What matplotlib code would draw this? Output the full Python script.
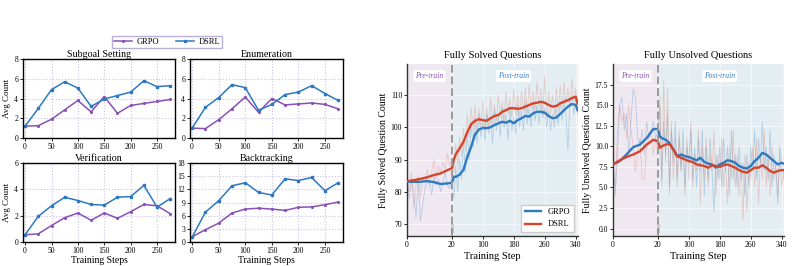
import numpy as np
import matplotlib
matplotlib.use('Agg')
import matplotlib.pyplot as plt

plt.rcParams['font.family'] = ['Liberation Serif', 'DejaVu Serif']
plt.rcParams['mathtext.fontset'] = 'stix'

# ---------------- left: reasoning behaviour counts ----------------
steps = [0, 25, 50, 75, 100, 125, 150, 175, 200, 225, 250, 275]

subgoal_grpo = [1.2, 1.25, 1.9, 2.85, 3.8, 2.65, 4.2, 2.5, 3.3, 3.5, 3.7, 3.9]
subgoal_dsrl = [1.2, 3.0, 4.9, 5.7, 5.05, 3.2, 3.95, 4.3, 4.65, 5.8, 5.2, 5.3]
enum_grpo = [1.0, 0.95, 1.85, 2.95, 4.15, 2.6, 4.0, 3.35, 3.45, 3.55, 3.4, 2.95]
enum_dsrl = [1.0, 3.1, 4.1, 5.4, 5.1, 2.8, 3.4, 4.4, 4.65, 5.3, 4.5, 3.8]
verif_grpo = [0.55, 0.62, 1.25, 1.85, 2.2, 1.65, 2.2, 1.8, 2.3, 2.85, 2.75, 2.15]
verif_dsrl = [0.55, 1.95, 2.75, 3.4, 3.15, 2.85, 2.8, 3.4, 3.45, 4.3, 2.65, 3.3]
back_grpo = [1.2, 2.8, 4.3, 6.6, 7.5, 7.7, 7.5, 7.2, 7.9, 8.0, 8.5, 9.1]
back_dsrl = [1.1, 6.8, 9.4, 12.8, 13.5, 11.3, 10.7, 14.4, 14.0, 14.7, 11.7, 13.5]

panel_titles = ['Subgoal Setting', 'Enumeration', 'Verification', 'Backtracking']
panel_ylims = [(0, 8), (0, 8), (0, 6), (0, 18)]
panel_yticks = [[0, 2, 4, 6, 8], [0, 2, 4, 6, 8], [0, 2, 4, 6], [0, 3, 6, 9, 12, 15, 18]]

# ---------------- right: solved / unsolved question counts ----------------
sm_steps = [0, 3, 6, 9, 12, 15, 18, 20, 25, 30] + list(range(40, 341, 10)) + [345]

solved_grpo = [83.1, 83.1, 83.1, 83.3, 83.0, 82.4, 82.6, 82.8, 84.7, 84.6,
               85.3, 86.8, 90.8, 94.0, 97.8, 99.3, 99.8, 99.7, 100.0, 100.7,
               101.2, 101.7, 101.4, 102.0, 101.2, 102.2, 102.8, 103.5, 103.3, 104.3,
               104.8, 104.8, 104.5, 103.5, 102.8, 103.0, 104.1, 105.3, 106.4, 107.2,
               106.9, 105.3]
solved_dsrl = [83.3, 83.6, 84.0, 84.5, 85.2, 85.7, 86.7, 87.3, 90.0, 91.6,
               93.5, 95.5, 98.5, 101.0, 102.0, 102.5, 102.2, 102.0, 102.8, 103.5,
               103.8, 104.8, 105.3, 105.9, 105.9, 105.7, 105.9, 106.4, 106.9, 107.4,
               107.6, 107.9, 107.6, 106.9, 106.4, 106.6, 107.4, 107.9, 108.4, 109.0,
               109.5, 107.4]
unsolved_grpo = [7.8, 8.2, 9.0, 9.9, 10.2, 11.0, 12.1, 12.1, 11.2, 11.0,
                 10.8, 10.4, 9.6, 8.8, 9.0, 8.8, 8.7, 8.5, 8.3, 8.6,
                 8.1, 7.9, 7.8, 7.4, 7.8, 8.0, 8.3, 8.2, 8.0, 7.6,
                 7.4, 7.3, 7.6, 8.2, 8.6, 9.2, 9.0, 8.6, 8.2, 7.8,
                 8.0, 7.9]
unsolved_dsrl = [7.8, 8.3, 8.7, 9.0, 9.4, 10.2, 10.8, 10.6, 9.8, 10.0,
                 10.2, 10.3, 9.6, 8.8, 8.6, 8.4, 8.2, 8.1, 7.8, 7.7,
                 7.6, 7.4, 7.7, 7.6, 7.5, 7.7, 7.8, 7.6, 7.4, 7.1,
                 6.9, 6.8, 7.1, 7.4, 7.4, 7.7, 7.4, 7.0, 6.8, 7.0,
                 7.1, 7.1]

raw_steps = list(range(0, 20)) + list(range(20, 346, 5))

solved_grpo_raw = [85, 78, 83, 80, 72, 84, 71, 76, 81, 84, 83, 79, 85, 82, 84, 80, 83, 86, 82, 81,
                   84, 78, 88, 80, 90, 84, 95, 86, 98, 90, 101, 94, 103, 95, 104, 97, 102, 96, 104, 98,
                   103, 95, 105, 99, 104, 97, 106, 100, 104, 96, 106, 99, 103, 98, 107, 100, 105, 99, 108, 101,
                   106, 100, 108, 102, 107, 101, 108, 103, 106, 100, 105, 99, 104, 100, 106, 101, 108, 102, 109, 103,
                   93, 108, 110, 104, 109, 104]
solved_dsrl_raw = [84, 80, 86, 75, 82, 85, 79, 84, 83, 87, 82, 86, 90, 84, 88, 86, 89, 87, 92, 88,
                   90, 86, 95, 88, 97, 91, 100, 93, 104, 97, 106, 99, 107, 98, 106, 100, 108, 99, 106, 100,
                   109, 101, 107, 102, 110, 103, 108, 102, 111, 104, 109, 103, 112, 104, 110, 103, 111, 105, 112, 104,
                   113, 106, 111, 105, 114, 106, 112, 104, 116, 103, 111, 104, 110, 103, 112, 105, 113, 106, 114, 107,
                   112, 106, 115, 108, 112, 105]
unsolved_grpo_raw = [8, 4, 9, 15, 16, 12, 14, 9, 13, 17, 16, 11, 10, 12, 9, 13, 11, 12, 13, 11,
                     12, 15, 6, 13, 9, 14, 5, 12, 8, 13, 6, 11, 7, 12, 5, 10, 8, 12, 6, 10,
                     5, 11, 7, 12, 4, 10, 6, 11, 7, 2, 9, 6, 10, 5, 11, 7, 10, 4, 12, 6,
                     9, 5, 10, 6, 8, 4, 9, 5, 10, 7, 12, 6, 11, 8, 13, 7, 10, 6, 12, 5,
                     9, 7, 3, 10, 8, 6]
unsolved_dsrl_raw = [8, 5, 12, 15, 13, 14, 11, 15, 12, 10, 7, 9, 11, 6, 6, 10, 11, 12, 9, 11,
                     9, 16, 5, 18, 8, 17, 4, 13, 6, 11, 5, 12, 7, 10, 4, 11, 6, 13, 5, 9,
                     7, 12, 3, 10, 6, 11, 5, 9, 7, 12, 4, 9, 6, 11, 5, 8, 3, 10, 6, 12,
                     5, 9, 4, 8, 1, 9, 2, 8, 6, 10, 5, 11, 3, 9, 6, 12, 5, 9, 4, 10,
                     6, 8, 4, 9, 5, 7]

PURPLE = '#8a50b8'
BLUE_L = '#2e78c2'
C_GRPO = '#2f7abf'
C_DSRL = '#d4452c'

fig = plt.figure(figsize=(7.93, 2.66), dpi=100)

# left 2x2 grid
W, H = 793.0, 266.0
boxes = [(23, 59, 152, 79), (190, 59, 153, 79), (23, 163, 152, 79), (190, 163, 153, 79)]
grpo_sets = [subgoal_grpo, enum_grpo, verif_grpo, back_grpo]
dsrl_sets = [subgoal_dsrl, enum_dsrl, verif_dsrl, back_dsrl]

for i, (x0, y0, w, h) in enumerate(boxes):
    ax = fig.add_axes([x0 / W, 1 - (y0 + h) / H, w / W, h / H])
    l1, = ax.plot(steps, grpo_sets[i], color=PURPLE, lw=1.1, marker='.', ms=2.5, label='GRPO')
    l2, = ax.plot(steps, dsrl_sets[i], color=BLUE_L, lw=1.1, marker='s', ms=1.8, label='DSRL')
    ax.set_xlim(-4, 284)
    ax.set_ylim(*panel_ylims[i])
    ax.set_yticks(panel_yticks[i])
    ax.set_xticks([0, 50, 100, 150, 200, 250])
    ax.grid(True, color='#c9c1ea', ls=':', lw=0.8)
    ax.tick_params(labelsize=5.5, length=2, width=0.6, pad=1.5)
    for s in ax.spines.values():
        s.set_color('black')
        s.set_linewidth(1.0)
    ax.set_title(panel_titles[i], fontsize=7.2, pad=1.5)
    if i % 2 == 0:
        ax.set_ylabel('Avg Count', fontsize=6.5, labelpad=2)
    if i >= 2:
        ax.set_xlabel('Training Steps', fontsize=7, labelpad=1)

fig.legend(handles=[l1, l2], loc='center', bbox_to_anchor=(167 / W, 1 - 42 / H), ncol=2,
           fontsize=6, frameon=True, edgecolor='#a99bd0', fancybox=False,
           handlelength=2.2, columnspacing=2.0, borderpad=0.25, handletextpad=0.5)

# right panels with a stretched pre-train segment
K = 5.8


def fwd(x):
    x = np.asarray(x, dtype=float)
    return np.where(x < 20, x * K, 20 * K + (x - 20))


def inv(y):
    y = np.asarray(y, dtype=float)
    return np.where(y < 20 * K, y / K, y - 20 * K + 20)


right_specs = [
    (407, 'Fully Solved Questions', 'Fully Solved Question Count',
     solved_grpo_raw, solved_dsrl_raw, solved_grpo, solved_dsrl, (66.3, 119.6),
     [70, 80, 90, 100, 110], ['70', '80', '90', '100', '110'], True),
    (613, 'Fully Unsolved Questions', 'Fully Unsolved Question Count',
     unsolved_grpo_raw, unsolved_dsrl_raw, unsolved_grpo, unsolved_dsrl, (-0.9, 20.0),
     [0, 2.5, 5, 7.5, 10, 12.5, 15, 17.5],
     ['0.0', '2.5', '5.0', '7.5', '10.0', '12.5', '15.0', '17.5'], False),
]

for (x0, title, ylab, g_raw, d_raw, g_sm, d_sm, ylim, yt, ytl, show_leg) in right_specs:
    ax = fig.add_axes([x0 / W, 1 - 236 / H, 171 / W, 172 / H])
    ax.set_xscale('function', functions=(fwd, inv))
    ax.set_xlim(0, 346)
    ax.set_ylim(*ylim)
    ax.axvspan(0, 20, color='#efe8f1', zorder=0)
    ax.axvspan(20, 346, color='#e4edf1', zorder=0)
    ax.plot(raw_steps, g_raw, color=C_GRPO, lw=0.6, alpha=0.28, zorder=2)
    ax.plot(raw_steps, d_raw, color=C_DSRL, lw=0.6, alpha=0.22, zorder=2)
    ax.plot(sm_steps, g_sm, color=C_GRPO, lw=1.7, label='GRPO', zorder=4)
    ax.plot(sm_steps, d_sm, color=C_DSRL, lw=1.7, label='DSRL', zorder=4)
    ax.axvline(20, color='#9a9a9a', lw=1.4, ls=(0, (4, 2)), zorder=5)
    ax.text(20, 0.045, '||', transform=ax.get_xaxis_transform(), ha='center', va='center',
            fontsize=7, color='#666666', zorder=6)
    ax.text(10, 0.93, 'Pre-train', transform=ax.get_xaxis_transform(), ha='center', va='center',
            fontsize=5.5, style='italic', color='#8a50b8', zorder=6,
            bbox=dict(boxstyle='round,pad=0.25', fc='white', ec='none'))
    ax.text(180, 0.93, 'Post-train', transform=ax.get_xaxis_transform(), ha='center', va='center',
            fontsize=5.5, style='italic', color='#3a7dc0', zorder=6,
            bbox=dict(boxstyle='round,pad=0.25', fc='white', ec='none'))
    ax.set_xticks([0, 20, 100, 180, 260, 340])
    ax.set_xticklabels(['0', '20', '100', '180', '260', '340'])
    ax.set_yticks(yt)
    ax.set_yticklabels(ytl)
    ax.grid(True, color='#ffffff', lw=0.6, alpha=0.7)
    ax.tick_params(labelsize=5.5, length=2, width=0.6, pad=1.5)
    for s in ['top', 'right']:
        ax.spines[s].set_visible(False)
    for s in ['left', 'bottom']:
        ax.spines[s].set_color('#333333')
        ax.spines[s].set_linewidth(1.0)
    ax.set_title(title, fontsize=7.5, pad=4)
    ax.set_ylabel(ylab, fontsize=7, labelpad=2)
    ax.set_xlabel('Training Step', fontsize=7.5, labelpad=2)
    if show_leg:
        ax.legend(loc='lower right', fontsize=6, frameon=True, fancybox=False,
                  edgecolor='#cccccc', framealpha=1, handlelength=2.0, borderpad=0.4)

fig.savefig('out.png', dpi=100)
